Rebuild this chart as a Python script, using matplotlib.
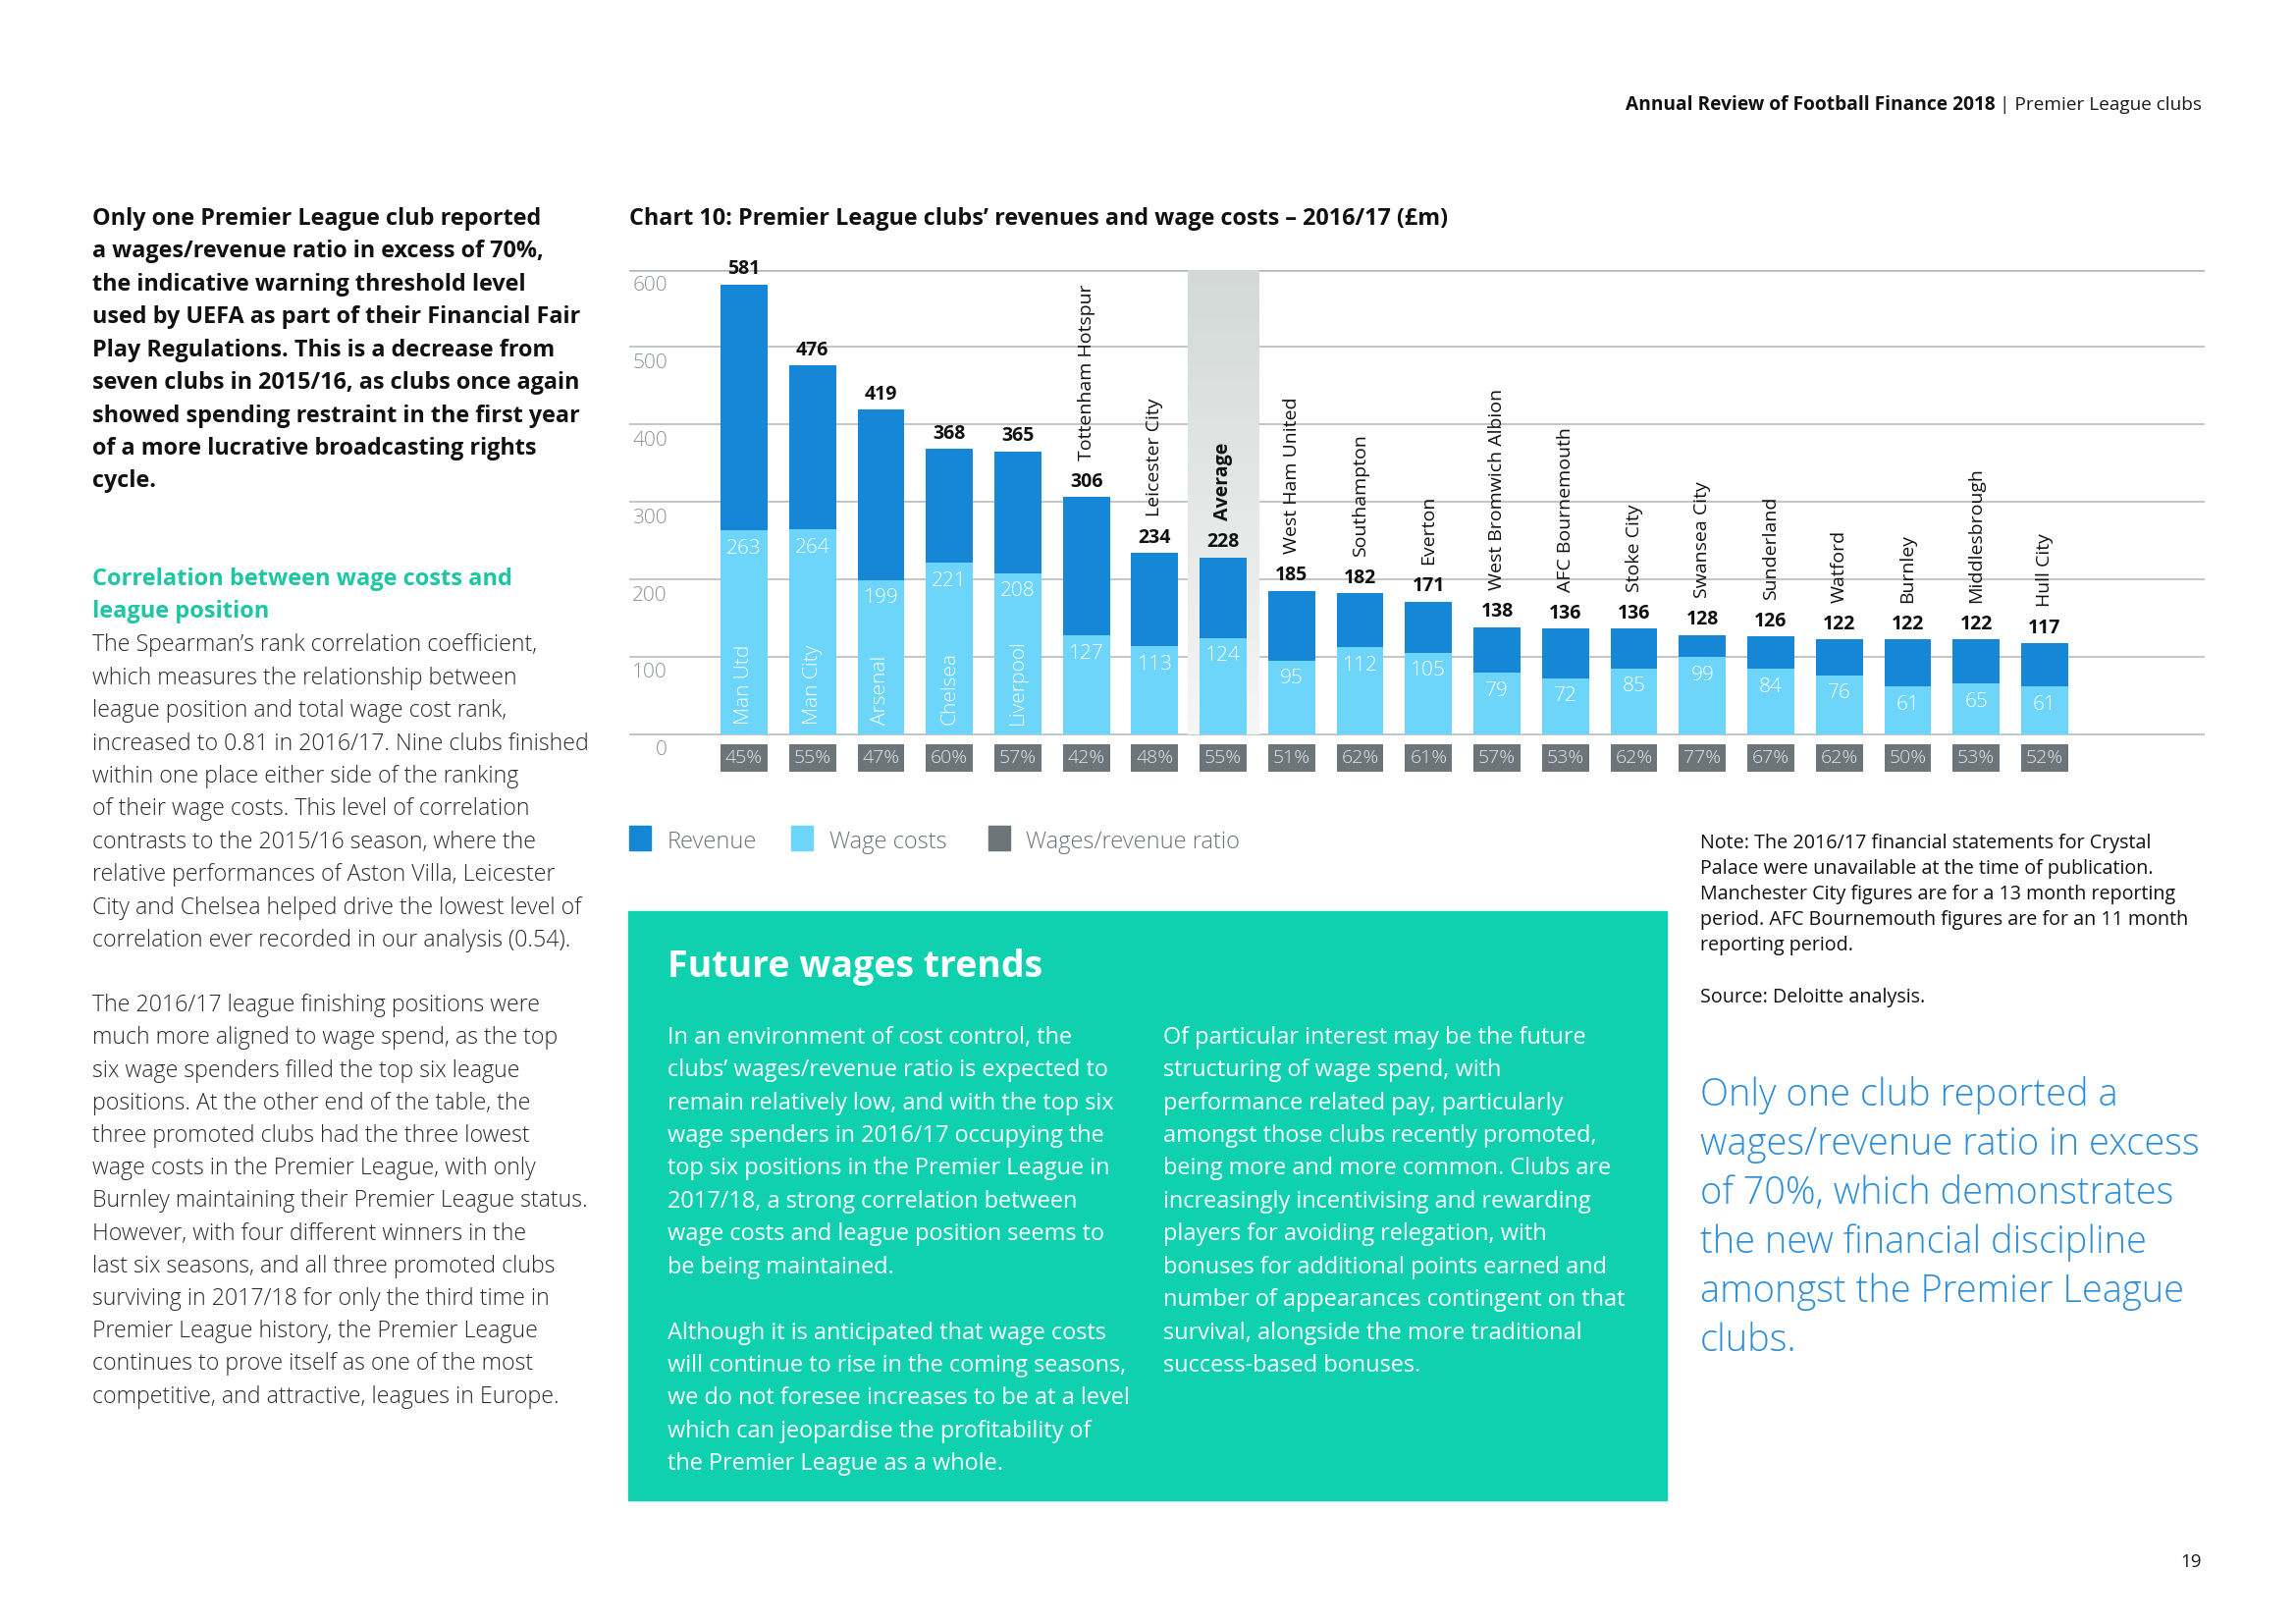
import numpy as np
import matplotlib
matplotlib.use("Agg")
import matplotlib.pyplot as plt
from matplotlib.patches import Rectangle
from matplotlib.colors import LinearSegmentedColormap
import matplotlib.transforms as mtransforms

plt.rcParams["font.family"] = ["Open Sans", "DejaVu Sans"]

W, H = 2339, 1654
S = 0.9914  # layout positions below were measured on a slightly larger grid
TXT_DY = 4  # centred text sits a touch high, nudge it down

# chart data
clubs = ["Man Utd", "Man City", "Arsenal", "Chelsea", "Liverpool",
         "Tottenham Hotspur", "Leicester City", "Average", "West Ham United",
         "Southampton", "Everton", "West Bromwich Albion", "AFC Bournemouth",
         "Stoke City", "Swansea City", "Sunderland", "Watford", "Burnley",
         "Middlesbrough", "Hull City"]
revenue = [581, 476, 419, 368, 365, 306, 234, 228, 185, 182, 171, 138, 136,
           136, 128, 126, 122, 122, 122, 117]
wages = [263, 264, 199, 221, 208, 127, 113, 124, 95, 112, 105, 79, 72, 85,
         99, 84, 76, 61, 65, 61]
ratio = [45, 55, 47, 60, 57, 42, 48, 55, 51, 62, 61, 57, 53, 62, 77, 67, 62,
         50, 53, 52]
y_ticks = [0, 100, 200, 300, 400, 500, 600]
inside_names = 5  # first clubs have their name inside the bar
avg_idx = clubs.index("Average")

REV = "#1686d7"
WAGE = "#6dd5fa"
RATIO = "#6b757a"
GRID = "#b3b7b9"
TEAL_BOX = "#0fd1b0"
TEAL = "#1fc6a2"
QUOTE = "#2d8ed8"
BODY = "#2b2b2b"

fig = plt.figure(figsize=(W / 100, H / 100), dpi=100)
fig.patch.set_facecolor("white")


def fx(px):
    return px * S / W


def fy(py):
    return 1 - py * S / H


def put_text(x, y, s, **kw):
    kw.setdefault("va", "center")
    fig.text(fx(x), fy(y + TXT_DY), s, **kw)


def put_lines(lines, x, y, dy, **kw):
    for i, line in enumerate(lines):
        if line:
            put_text(x, y + i * dy, line, **kw)


# header and page number
put_text(2262, 104, "| Premier League clubs", ha="right", fontsize=13.7,
         color="#1a1a1a")
put_text(2050, 104, "Annual Review of Football Finance 2018", ha="right",
         fontsize=13.8, fontweight="bold", color="#111111")
put_text(2262, 1601, "19", ha="right", fontsize=13.5, color="#1a1a1a")

# left column
intro = ["Only one Premier League club reported",
         "a wages/revenue ratio in excess of 70%,",
         "the indicative warning threshold level",
         "used by UEFA as part of their Financial Fair",
         "Play Regulations. This is a decrease from",
         "seven clubs in 2015/16, as clubs once again",
         "showed spending restraint in the first year",
         "of a more lucrative broadcasting rights",
         "cycle."]
put_lines(intro, 95, 221, 33.7, fontsize=16.8, fontweight="bold",
          color="#111111")

put_lines(["Correlation between wage costs and", "league position"],
          95, 591, 33.7, fontsize=17, fontweight="bold", color=TEAL)

para1 = ["The Spearman\u2019s rank correlation coefficient,",
         "which measures the relationship between",
         "league position and total wage cost rank,",
         "increased to 0.81 in 2016/17. Nine clubs finished",
         "within one place either side of the ranking",
         "of their wage costs. This level of correlation",
         "contrasts to the 2015/16 season, where the",
         "relative performances of Aston Villa, Leicester",
         "City and Chelsea helped drive the lowest level of",
         "correlation ever recorded in our analysis (0.54)."]
put_lines(para1, 95, 659, 33.7, fontsize=16.7, fontweight="light", color=BODY)

para2 = ["The 2016/17 league finishing positions were",
         "much more aligned to wage spend, as the top",
         "six wage spenders filled the top six league",
         "positions. At the other end of the table, the",
         "three promoted clubs had the three lowest",
         "wage costs in the Premier League, with only",
         "Burnley maintaining their Premier League status.",
         "However, with four different winners in the",
         "last six seasons, and all three promoted clubs",
         "surviving in 2017/18 for only the third time in",
         "Premier League history, the Premier League",
         "continues to prove itself as one of the most",
         "competitive, and attractive, leagues in Europe."]
put_lines(para2, 95, 1029, 33.5, fontsize=16.7, fontweight="light", color=BODY)

# chart title
put_text(647, 221,
         "Chart 10: Premier League clubs\u2019 revenues and wage costs \u2013 2016/17 (\u00a3m)",
         fontsize=16.8, fontweight="bold", color="#111111")

# chart axes
ax = fig.add_axes([fx(647), fy(801.7), fx(2265) - fx(647), fy(277) - fy(801.7)])
ax.axis("off")

x = np.arange(len(clubs))
bw = 0.685

for t in y_ticks:
    ax.axhline(t, color=GRID, lw=1.8 if t == y_ticks[-1] else 1.1, zorder=0.5)

# average highlight band
grad = LinearSegmentedColormap.from_list("avg", ["#f5f6f6", "#d3d9d7"])
ax.imshow(np.linspace(0, 1, 256).reshape(-1, 1), cmap=grad, origin="lower",
          extent=(avg_idx - 0.52, avg_idx + 0.52, 0, y_ticks[-1]),
          aspect="auto", zorder=1)

ax.bar(x, revenue, width=bw, color=REV, zorder=2)
ax.bar(x, wages, width=bw, color=WAGE, zorder=2.1)
ax.bar(x, 36, bottom=-49, width=bw, color=RATIO, zorder=2)

ax.set_xlim(-1.67, 21.33)
ax.set_ylim(-60, 600)

# y labels sit just under each gridline
lab_tr = ax.get_yaxis_transform() + mtransforms.ScaledTranslation(
    0, -12 / 72, fig.dpi_scale_trans)
for t in y_ticks:
    ax.text(0.024, t, str(t), transform=lab_tr, ha="right", va="center",
            fontsize=15, fontweight="light", color="#8a9094")

for i, club in enumerate(clubs):
    bold = "bold" if club == "Average" else "normal"
    ax.annotate(str(revenue[i]), (x[i], revenue[i]), xytext=(0, 4),
                textcoords="offset points", ha="center", va="bottom",
                fontsize=14, fontweight="bold", color="#111111", zorder=3)
    ax.annotate(str(wages[i]), (x[i], wages[i]), xytext=(0, -6),
                textcoords="offset points", ha="center", va="top",
                fontsize=15, fontweight="light", color="white", zorder=3)
    ax.text(x[i], -31, f"{ratio[i]}%", ha="center", va="center",
            fontsize=14, fontweight="light", color="#e4e7e8", zorder=3)
    if i < inside_names:
        ax.text(x[i], 12, club, rotation=90, ha="center", va="bottom",
                fontsize=15, fontweight="light", color="white", zorder=3)
    else:
        ax.annotate(club, (x[i], revenue[i]), xytext=(0, 27),
                    textcoords="offset points", rotation=90, ha="center",
                    va="bottom", fontsize=14, fontweight=bold,
                    color="#111111", zorder=3)

# legend
legend_items = [("Revenue", REV, 647, 686), ("Wage costs", WAGE, 813, 852),
                ("Wages/revenue ratio", RATIO, 1016, 1054)]
for label, col, sx, tx in legend_items:
    fig.patches.append(Rectangle((fx(sx), fy(874)), 22 * S / W, 26 * S / H,
                                 transform=fig.transFigure, color=col))
    put_text(tx, 861, label, fontsize=17, fontweight="light", color="#6d7378")

# green box
fig.patches.append(Rectangle((fx(646), fy(1541)), (1713 - 646) * S / W,
                             (1541 - 936) * S / H, transform=fig.transFigure,
                             color=TEAL_BOX))
put_text(686, 990, "Future wages trends", fontsize=27, fontweight="bold",
         color="white")

box_left = ["In an environment of cost control, the",
            "clubs\u2019 wages/revenue ratio is expected to",
            "remain relatively low, and with the top six",
            "wage spenders in 2016/17 occupying the",
            "top six positions in the Premier League in",
            "2017/18, a strong correlation between",
            "wage costs and league position seems to",
            "be being maintained.",
            "",
            "Although it is anticipated that wage costs",
            "will continue to rise in the coming seasons,",
            "we do not foresee increases to be at a level",
            "which can jeopardise the profitability of",
            "the Premier League as a whole."]
put_lines(box_left, 686, 1062, 33.7, fontsize=16.9, color="white")

box_right = ["Of particular interest may be the future",
             "structuring of wage spend, with",
             "performance related pay, particularly",
             "amongst those clubs recently promoted,",
             "being more and more common. Clubs are",
             "increasingly incentivising and rewarding",
             "players for avoiding relegation, with",
             "bonuses for additional points earned and",
             "number of appearances contingent on that",
             "survival, alongside the more traditional",
             "success-based bonuses."]
put_lines(box_right, 1195, 1062, 33.7, fontsize=16.9, color="white")

# notes and quote
note = ["Note: The 2016/17 financial statements for Crystal",
        "Palace were unavailable at the time of publication.",
        "Manchester City figures are for a 13 month reporting",
        "period. AFC Bournemouth figures are for an 11 month",
        "reporting period.",
        "",
        "Source: Deloitte analysis."]
put_lines(note, 1747, 862, 26.4, fontsize=14.2, color="#111111")

quote = ["Only one club reported a",
         "wages/revenue ratio in excess",
         "of 70%, which demonstrates",
         "the new financial discipline",
         "amongst the Premier League",
         "clubs."]
put_lines(quote, 1747, 1121, 50.6, fontsize=27.4, fontweight="light",
          color=QUOTE)

fig.savefig("out.png", dpi=100)
